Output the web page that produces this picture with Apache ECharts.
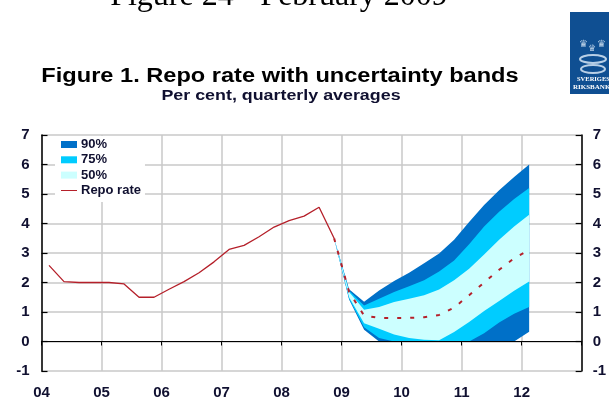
<!DOCTYPE html>
<html>
<head>
<meta charset="utf-8">
<style>html,body{margin:0;padding:0;background:#fff;overflow:hidden}#c{width:609px;height:400px}</style>
<script src="https://cdn.jsdelivr.net/npm/echarts@6/dist/echarts.min.js"></script>
</head>
<body>
<div id="c"></div>
<script>
const yearLabels = ['04','05','06','07','08','09','10','11','12'];
const repoStart = 2004.125;
const repoRate = [2.58,2.03,2.0,2.0,2.0,1.95,1.5,1.5,1.77,2.03,2.33,2.7,3.12,3.26,3.55,3.88,4.1,4.25,4.55,3.5];
const forecastStart = 2008.875;
const forecast = [3.5,1.68,0.88,0.8,0.8,0.8,0.82,0.9,1.15,1.57,2.0,2.43,2.82,3.1];
const upper90 = [3.5,1.77,1.35,1.73,2.05,2.33,2.65,2.98,3.45,4.05,4.63,5.13,5.58,6.0];
const upper75 = [3.5,1.72,1.22,1.45,1.68,1.87,2.08,2.37,2.75,3.3,3.9,4.4,4.83,5.2];
const upper50 = [3.5,1.68,1.08,1.17,1.34,1.45,1.57,1.76,2.08,2.47,2.95,3.45,3.9,4.3];
const lower50 = [3.5,1.5,0.62,0.43,0.24,0.12,0.06,0.04,0.32,0.66,1.03,1.37,1.72,2.03];
const lower75 = [3.5,1.45,0.48,0.12,0,0,0,0,0,0,0.28,0.64,0.94,1.17];
const lower90 = [3.5,1.42,0.4,0,0,0,0,0,0,0,0,0,0,0.33];
const bandLabels = ['90%','75%','50%'];
const lineLabel = 'Repo rate';
const colors = {dark:'#0070c8', mid:'#00ccff', light:'#ccffff', red:'#b5202a', grid:'#c8c8c8'};

const xs = lower90.map((_, i) => forecastStart + i * 0.25);
const pts = (arr, start) => arr.map((v, i) => [start + i * 0.25, v]);
function band(name, hi, lo, color) {
  return {
    name, type: 'custom', silent: true, itemStyle: {color}, z: 3, clip: false,
    data: xs.map((x, i) => [x, hi[i], lo[i]]),
    encode: {x: 0, y: [1, 2]},
    renderItem(params, api) {
      if (params.dataIndex !== 0) return null;
      const top = xs.map((x, i) => api.coord([x, hi[i]]));
      const bottom = xs.map((x, i) => api.coord([x, lo[i]])).reverse();
      return {type: 'polygon', shape: {points: top.concat(bottom)}, style: {fill: color}};
    }
  };
}
const chart = echarts.init(document.getElementById('c'), null, {renderer: 'canvas'});
const labelFont = {color: '#101030', fontFamily: 'Liberation Sans', fontWeight: 'bold', fontSize: 15};
chart.setOption({
  animation: false,
  backgroundColor: '#fff',
  grid: {left: 41.5, right: 26.5, top: 135, bottom: 29},
  legend: {
    orient: 'vertical', left: 55, top: 136, width: 93, padding: [2, 4, 5, 6], itemGap: 2.3,
    itemWidth: 16, itemHeight: 7, backgroundColor: '#fff',
    textStyle: {fontFamily: 'Liberation Sans', fontWeight: 'bold', fontSize: 13, color: '#101030', padding: [0,0,0,-1]},
    data: [{name: bandLabels[0], icon: 'rect'}, {name: bandLabels[1], icon: 'rect'}, {name: bandLabels[2], icon: 'rect'},
           {name: lineLabel, icon: 'path://M0 0L0 0ZM0 3H16V4.2H0ZM16 7L16 7Z'}]
  },
  xAxis: [
    {type: 'value', min: 2004, max: 2013, interval: 1, position: 'bottom',
     axisLine: {show: false}, axisTick: {show: false},
     splitLine: {show: true, lineStyle: {color: colors.grid, width: 1.5}},
     axisLabel: {...labelFont, margin: 14, showMaxLabel: false,
       formatter: v => yearLabels[v - 2004] || ''}},
    {type: 'value', min: 2004, max: 2013, interval: 1,
     axisLine: {show: true, onZero: true, onZeroAxisIndex: 0, lineStyle: {color: '#000', width: 1.2}},
     axisTick: {show: true, inside: true, length: 4, lineStyle: {color: '#000'}},
     axisLabel: {show: false}, splitLine: {show: false}, z: 6}
  ],
  yAxis: [
    {type: 'value', min: -1, max: 7, interval: 1, position: 'left',
     axisLine: {show: true, onZero: false, lineStyle: {color: '#000', width: 1.5}},
     axisTick: {show: true, inside: true, length: 6, lineStyle: {color: '#000', width: 1.2}},
     splitLine: {show: true, lineStyle: {color: colors.grid, width: 1.5}},
     axisLabel: {...labelFont, margin: 12}},
    {type: 'value', min: -1, max: 7, interval: 1, position: 'right',
     axisLine: {show: true, onZero: false, lineStyle: {color: '#000', width: 1.5}},
     axisTick: {show: true, inside: true, length: 6, lineStyle: {color: '#000', width: 1.2}},
     splitLine: {show: false},
     axisLabel: {...labelFont, margin: 11}}
  ],
  series: [
    band(bandLabels[0], upper90, lower90, colors.dark),
    band(bandLabels[1], upper75, lower75, colors.mid),
    band(bandLabels[2], upper50, lower50, colors.light),
    {name: lineLabel, type: 'line', symbol: 'none', data: pts(repoRate, repoStart),
     lineStyle: {color: colors.red, width: 1.3}, itemStyle: {color: colors.red}, z: 5},
    {name: 'Forecast', type: 'line', symbol: 'none', data: pts(forecast, forecastStart),
     lineStyle: {color: colors.red, width: 2, type: [4, 9]}, itemStyle: {color: colors.red}, z: 5}
  ],
  graphic: [
    {type: 'text', x: 279, y: -19, style: {text: 'Figure 24 - February 2009', fill: '#000', font: '32px "Liberation Serif"', align: 'center'}},
    {type: 'text', x: 280, y: 66, scaleX: 1.18, style: {text: 'Figure 1. Repo rate with uncertainty bands', fill: '#000', font: 'bold 20px "Liberation Sans"', align: 'center'}},
    {type: 'text', x: 281, y: 88, scaleX: 1.19, style: {text: 'Per cent, quarterly averages', fill: '#101030', font: 'bold 15px "Liberation Sans"', align: 'center'}},
    {type: 'rect', x: 570, y: 12, shape: {width: 39, height: 82}, style: {fill: '#0f4f92'}, z: 10},
    {type: 'text', x: 579, y: 39, style: {text: '♛', fill: '#b8cfe6', font: '10px "DejaVu Sans"'}, z: 11},
    {type: 'text', x: 597, y: 39, style: {text: '♛', fill: '#b8cfe6', font: '10px "DejaVu Sans"'}, z: 11},
    {type: 'text', x: 588, y: 44, style: {text: '♛', fill: '#b8cfe6', font: '9px "DejaVu Sans"'}, z: 11},
    {type: 'ellipse', shape: {cx: 593, cy: 59, rx: 13, ry: 4}, style: {fill: 'none', stroke: '#b8cfe6', lineWidth: 2}, z: 11},
    {type: 'ellipse', shape: {cx: 593, cy: 69, rx: 12, ry: 4}, style: {fill: 'none', stroke: '#b8cfe6', lineWidth: 2}, z: 11},
    {type: 'text', x: 577, y: 76, style: {text: 'SVERIGES', fill: '#fff', font: 'bold 6.5px "Liberation Serif"'}, z: 11},
    {type: 'text', x: 573, y: 84, style: {text: 'RIKSBANK', fill: '#fff', font: 'bold 7px "Liberation Serif"'}, z: 11}
  ]
});
</script>
</body>
</html>
